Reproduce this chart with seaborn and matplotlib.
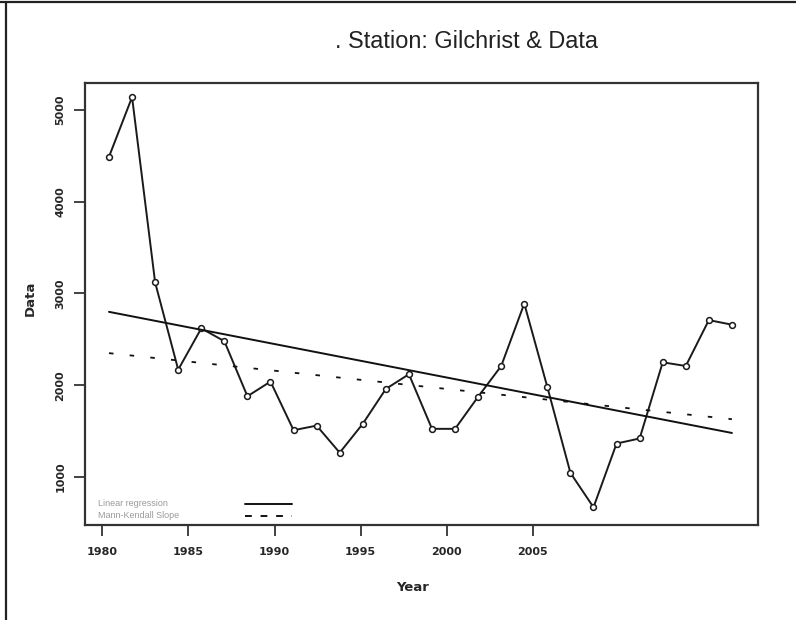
import numpy as np
import pandas as pd
import matplotlib
matplotlib.use("Agg")
import matplotlib.pyplot as plt
import seaborn as sns
from matplotlib.lines import Line2D

# ---- data ----
years = list(range(1980, 2008))
values = [4490, 5140, 3120, 2170, 2620, 2480, 1880, 2040, 1510, 1560,
          1265, 1580, 1960, 2120, 1525, 1525, 1875, 2210, 2890, 1980,
          1045, 670, 1365, 1420, 2250, 2210, 2710, 2660]
reg_years = [1980, 2007]
reg_values = [2800, 1480]
mk_years = [1980, 2007]
mk_values = [2350, 1630]
yticks = [1000, 2000, 3000, 4000, 5000]
xtick_labels = ["1980", "1985", "1990", "1995", "2000", "2005"]
legend_labels = ["Linear regression", "Mann-Kendall Slope"]

df = pd.DataFrame({"Year": years, "Data": values})

sns.set_theme(style="white")
plt.rcParams["font.family"] = ["Liberation Sans", "DejaVu Sans"]

tick_font = "DejaVu Sans"
tick_fs = 8

W, H = 796, 620
fig = plt.figure(figsize=(W/100, H/100), dpi=100)
ax = fig.add_axes([85/W, 1-525/H, (758-85)/W, (525-83)/H])

sns.lineplot(data=df, x="Year", y="Data", ax=ax, color="#1a1a1a", linewidth=1.4,
             marker="o", markersize=4.2, markerfacecolor="white",
             markeredgecolor="#1a1a1a", markeredgewidth=1.1)
sns.lineplot(x=reg_years, y=reg_values, ax=ax, color="#111111", linewidth=1.4)
sns.lineplot(x=mk_years, y=mk_values, ax=ax, color="#111111", linewidth=1.3,
             linestyle=(0, (2.5, 9)))

ax.set_xlim(1978.96, 2008.13)
ax.set_ylim(477, 5294)

# axis tick positions (as drawn in the reference)
tick_pos = [1979.71 + 3.732 * k for k in range(len(xtick_labels))]
ax.set_xticks(tick_pos)
ax.set_xticklabels(xtick_labels, fontweight="bold", fontsize=tick_fs,
                   family=tick_font)
ax.set_yticks(yticks)
ax.set_yticklabels([str(v) for v in yticks], rotation=90, va="center",
                   fontweight="bold", fontsize=tick_fs, family=tick_font)
ax.tick_params(axis="both", which="both", direction="out", length=8,
               width=1.2, color="#222222", bottom=True, left=True)
ax.tick_params(axis="x", pad=8)
ax.tick_params(axis="y", pad=6)

for s in ax.spines.values():
    s.set_color("#333333")
    s.set_linewidth(1.6)

ax.set_xlabel("Year", fontweight="bold", fontsize=9.5, family=tick_font)
ax.set_ylabel("Data", fontweight="bold", fontsize=9.5, family=tick_font)
ax.xaxis.set_label_coords((413-85)/(758-85), -(581-525)/(525-83))
ax.yaxis.set_label_coords(-(85-37)/(758-85), (525-298)/(525-83))

fig.text(466/W, 1-42/H, ". Station: Gilchrist & Data", ha="center",
         va="center", fontsize=16.9, color="#222222")

# legend (text then key line), drawn in figure pixel positions
for i, lab in enumerate(legend_labels):
    yy = 1 - (504 + 12*i)/H
    fig.text(98/W, yy, lab, ha="left", va="center", fontsize=6.5,
             color="#9a9a9a")
    ls = "-" if i == 0 else (0, (3.5, 4.5))
    fig.add_artist(Line2D([245/W, 292/W], [yy, yy], transform=fig.transFigure,
                          color="#111111", lw=1.4, linestyle=ls))

# outer frame lines (top and left)
fig.add_artist(Line2D([0, 1], [1-2/H, 1-2/H], transform=fig.transFigure,
                      color="#222222", lw=1.6))
fig.add_artist(Line2D([6/W, 6/W], [0, 1-2/H], transform=fig.transFigure,
                      color="#222222", lw=1.6))

fig.savefig("out.png", dpi=100)
